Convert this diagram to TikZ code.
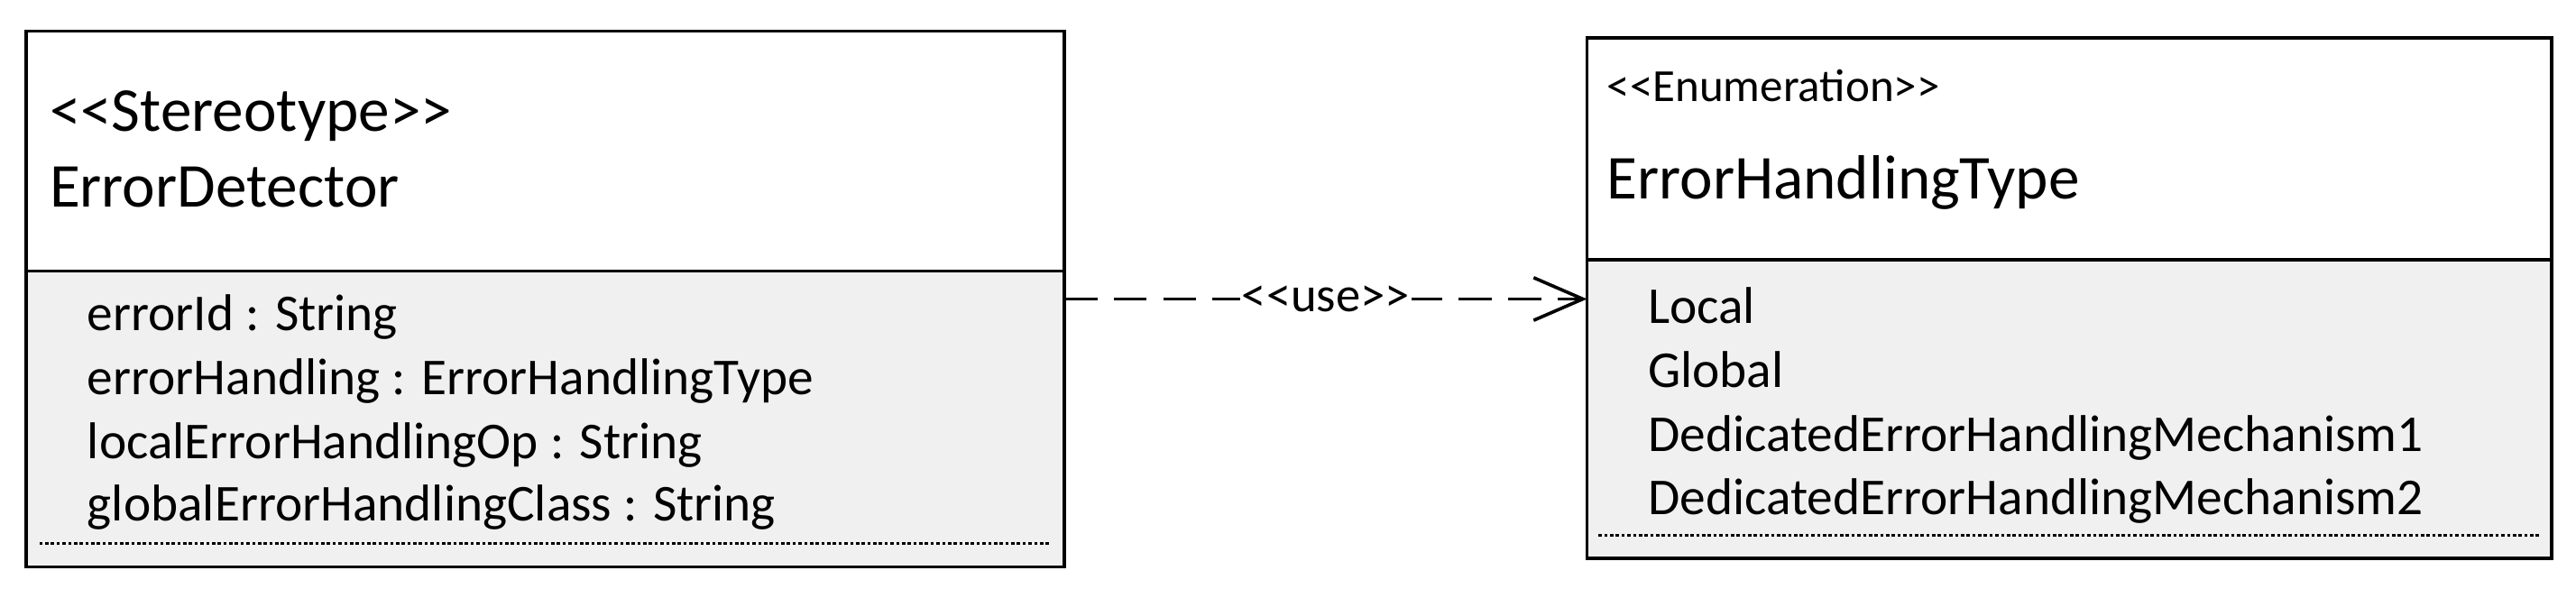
\documentclass[tikz,border=0pt]{standalone}
\usepackage{fontspec}
\setmainfont{Carlito}
\usetikzlibrary{arrows.meta}
\begin{document}
\begin{tikzpicture}[x=1pt,y=-1pt,
  box/.style={draw=black,line width=2pt},
  attr/.style={anchor=base west,inner sep=0pt,font=\fontsize{31.5}{36}\selectfont},
  cname/.style={anchor=base west,inner sep=0pt,font=\fontsize{38}{44}\selectfont},
  dots/.style={line width=1.6pt,dash pattern=on 2pt off 1.5pt}]
\useasboundingbox (0,0) rectangle (1568,358);
% left class
\fill[white] (16,19) rectangle (648,165);
\fill[black!6] (16,165) rectangle (648,345);
\draw[box] (16,19) rectangle (648,345);
\draw[box] (16,165) -- (648,165);
\node[cname] (s1) at (30,80) {<{}<Stereotype>{}>};
\node[cname] (n1) at (30,126) {ErrorDetector};
\node[attr] (a1) at (53,201) {errorId : String};
\node[attr] (a2) at (53,240) {errorHandling : ErrorHandlingType};
\node[attr] (a3) at (53,279) {localErrorHandlingOp : String};
\node[attr] (a4) at (53,317) {globalErrorHandlingClass : String};
\draw[dots] (24,331) -- (640,331);
% right class
\fill[white] (966,23) rectangle (1553,158);
\fill[black!6] (966,158) rectangle (1553,340);
\draw[box] (966,23) rectangle (1553,340);
\draw[box] (966,158) -- (1553,158);
\node[anchor=base west,inner sep=0pt,font=\fontsize{28}{32}\selectfont] (s2) at (978,62) {<{}<Enumeration>{}>};
\node[cname] (n2) at (978,121) {ErrorHandlingType};
\node[attr] (b1) at (1003,197) {Local};
\node[attr] (b2) at (1003,236) {Global};
\node[attr] (b3) at (1003,275) {DedicatedErrorHandlingMechanism1};
\node[attr] (b4) at (1003,313) {DedicatedErrorHandlingMechanism2};
\draw[dots] (973,326) -- (1546,326);
% dependency
\coordinate (p) at (648,182);
\coordinate (q) at (966,182);
\draw[line width=2pt,dash pattern=on 20pt off 10pt,-{Straight Barb[length=30pt,width=26pt,line width=2pt]}] (p) -- node[fill=white,inner sep=1pt,font=\fontsize{30}{34}\selectfont] (u) {<{}<use>{}>} (q);
\end{tikzpicture}
\end{document}
